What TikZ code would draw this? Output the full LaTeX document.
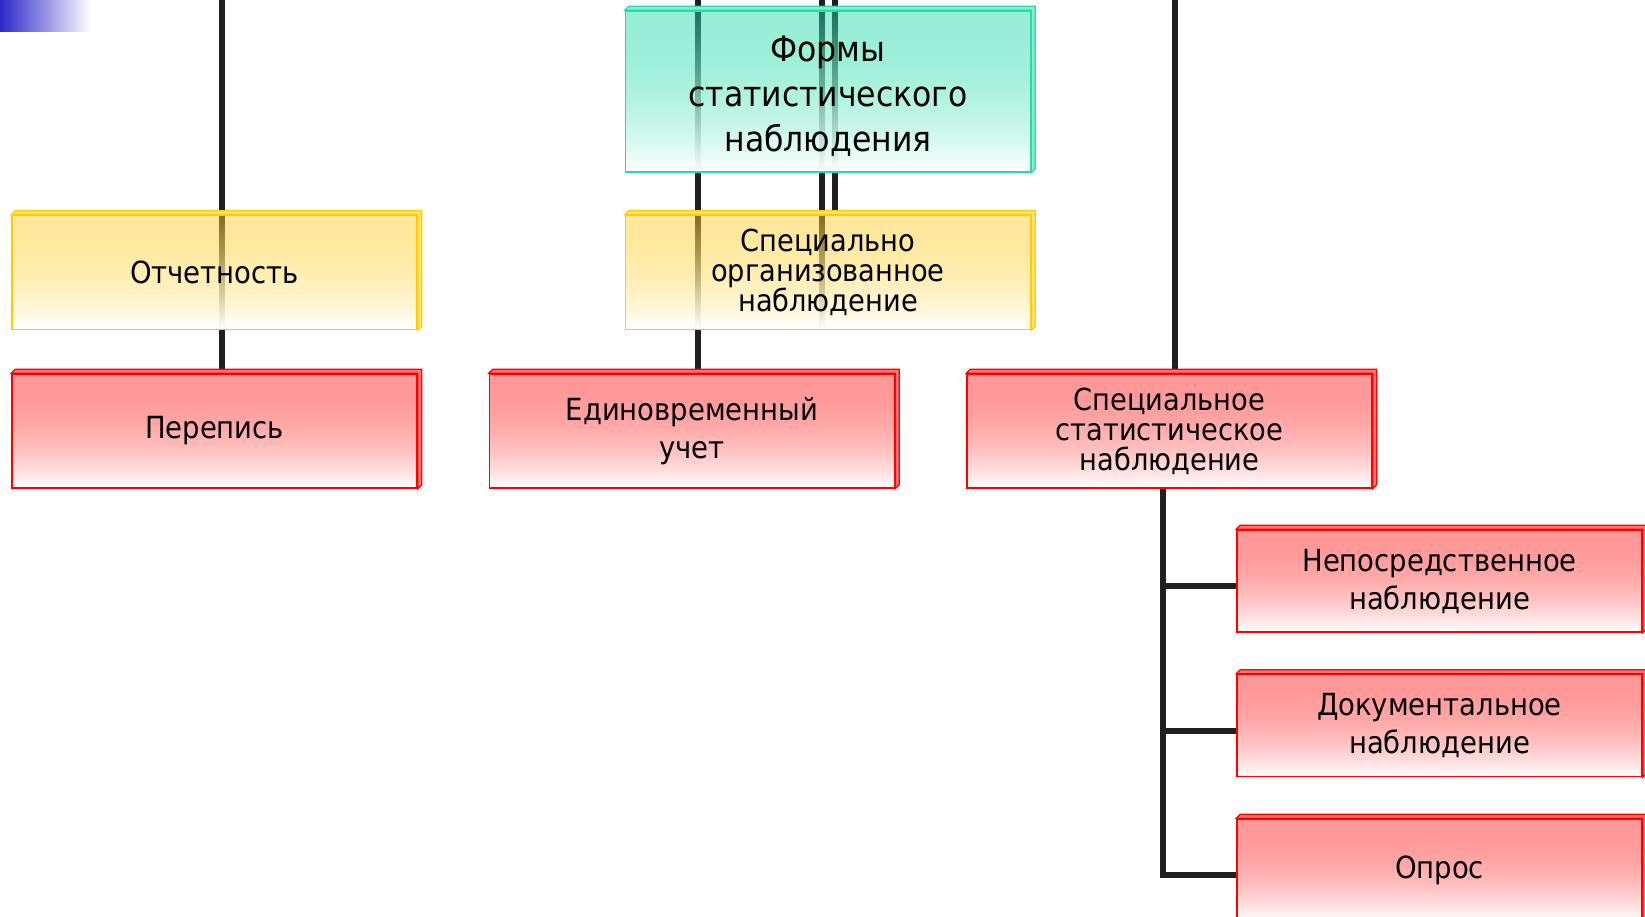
\documentclass[tikz,border=0pt]{standalone}
\usepackage{fontspec}
\setmainfont{DejaVu Sans Condensed}
\usepackage{tikz}
\usetikzlibrary{calc, %for the 3d box edges
                fadings, %for see-through boxes
                backgrounds, %lines behind the boxes
                positioning}

\definecolor{tealline}{RGB}{40,218,168}
\definecolor{tealfill}{RGB}{30,220,165}
\definecolor{goldline}{RGB}{255,204,0}
\definecolor{goldfill}{RGB}{255,205,40}
\definecolor{redline}{RGB}{255,0,0}
\definecolor{redfill}{RGB}{255,30,30}
\definecolor{stemgray}{RGB}{32,32,32}
\definecolor{cornerblue}{RGB}{45,40,200}

\tikzfading[name=boxfade, top color=transparent!55, bottom color=transparent!0]

\begin{document}
\begin{tikzpicture}[x=1pt, y=-1pt,
                    Box/.style={draw=#1line, line width=1.5pt, minimum width=405pt, minimum height=114pt,
                                inner sep=0pt, align=center, font=\fontsize{30.5}{38}\selectfont,
                                preaction={top color=#1fill, bottom color=white, path fading=boxfade}},
                    tight/.style={font=\fontsize{30.3}{30}\selectfont},
                    stem/.style={line width=6pt, stemgray},
                    edge3d/.style={line width=1.2pt}
                    ]

    \useasboundingbox (0,0) rectangle (1645,916);

    % CORNER %
    \fill[left color=cornerblue, right color=white] (0,0) rectangle (91,31);

    % BOXES %
    \node[Box=gold] at (214.5,272.5) (otch){Отчетность};
    \node[Box=gold, tight, right=207pt of otch] (spec){Специально\\организованное\\наблюдение};
    \node[Box=teal, minimum height=161pt, above=42pt of spec, font=\fontsize{35}{45}\selectfont] (forms){\\[-10.5pt]Формы\\статистического\\наблюдения};
    \node[Box=red, below=43pt of otch] (pere){Перепись};
    \node[Box=red, right=71pt of pere] (edin){Единовременный\\учет};
    \node[Box=red, tight, right=71pt of edin] (sstat){Специальное\\статистическое\\наблюдение};

    \node[Box=red, minimum height=102pt] at (1439.5,581) (nep){Непосредственное\\наблюдение};
    \node[Box=red, minimum height=102pt, below=41pt of nep] (doc){Документальное\\наблюдение};
    \node[Box=red, minimum height=102pt, below=41pt of doc] (opros){Опрос};

    \foreach \n/\c in {forms/tealline, spec/goldline, otch/goldline, pere/redline, edin/redline,
                       sstat/redline, nep/redline, doc/redline, opros/redline}
    \draw[edge3d, \c, fill=\c!55!white] (\n.north west) -- ++(4,-4) -| ($(\n.south east)+(4,-4)$)
        -- (\n.south east) -- (\n.north east) -- cycle;

    % LINES %
    \coordinate (top1) at (222,-10);
    \coordinate (top2) at (698,-10);
    \coordinate (top3) at (822,-10);
    \coordinate (top4) at (835,-10);
    \coordinate (top5) at (1175,-10);
    \coordinate (trunk) at ([xshift=-7pt]sstat.south);

    \begin{scope}[on background layer]
    \draw[stem] (top1) -- (top1 |- pere.north);
    \draw[stem] (top2) -- (top2 |- edin.north);
    \draw[stem] (top3) -- (top3 |- spec.south);
    \draw[stem] (top4) -- (top4 |- spec.north);
    \draw[stem] (top5) -- (top5 |- sstat.north);

    \draw[stem] (trunk) |- ([yshift=-5pt]opros.west);
    \foreach \n in {nep,doc}
    \draw[stem] ([yshift=-5pt]\n.west) -- ([yshift=-5pt]\n.west -| trunk);
    \end{scope}
\end{tikzpicture}
\end{document}
